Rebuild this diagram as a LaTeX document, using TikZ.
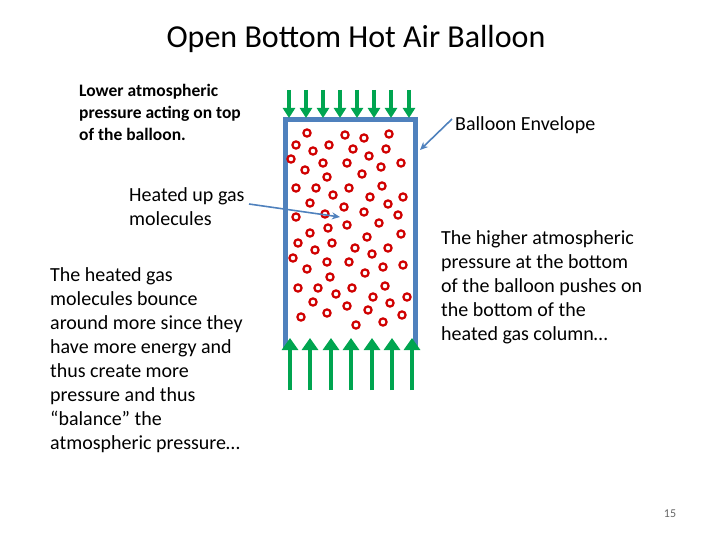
\documentclass[tikz,border=0pt]{standalone}
\usepackage{fontspec}
\setmainfont{Carlito}
\usetikzlibrary{arrows.meta}
\definecolor{envblue}{HTML}{4F81BD}
\definecolor{pushgreen}{HTML}{00A550}
\definecolor{molred}{HTML}{D00000}
\begin{document}
\begin{tikzpicture}[
    x=1pt, y=-1pt,
    txt/.style={anchor=north west, align=left, inner sep=0pt, font=\fontsize{20}{24}\selectfont},
    push/.style={draw=pushgreen, line width=3.5pt, -{Triangle[width=12pt,length=10pt]}},
    ptr/.style={draw=envblue, line width=1.6pt, -{Stealth[length=8pt,width=7pt]}},
    mol/.style={draw=molred, line width=2.2pt},
  ]
    \useasboundingbox (0,0) rectangle (720,540);
    % Title
    \node[font=\fontsize{32}{36}\selectfont] (title) at (356,39) {Open Bottom Hot Air Balloon};

    % Envelope
    \draw[draw=envblue, line width=5pt, line join=miter] (285,350) -- (285,120) -- (415,120) -- (415,350);

    % Pressure arrows
    \foreach \x in {289,306,323,340,357,374,391,409}
      \draw[push] (\x,90) -- (\x,118);
    \foreach \x in {290,310,331,351,372,392,412}
      \draw[push, -{Triangle[width=16pt,length=12pt]}] (\x,390) -- (\x,338);

    % Molecules
    \foreach \x/\y in {307/133,345/135,364/138,389/134,296/145,313/151,329/145,353/149,369/156,386/149,
        291/159,323/163,347/163,381/167,401/163,305/170,327/177,362/174,296/188,316/188,349/188,382/186,
        333/195,370/197,403/197,310/203,344/207,388/204,296/217,325/214,364/212,398/215,347/225,379/223,
        310/233,328/228,401/234,367/237,298/243,332/243,315/250,355/248,388/248,293/258,372/254,327/262,
        349/262,307/269,383/267,403/265,330/277,365/273,298/288,318/288,352/288,385/286,313/302,336/294,
        373/297,407/297,347/306,390/303,301/317,327/313,368/310,402/315,356/325,383/322}
      \draw[mol] (\x,\y) circle (3.6);

    % Labels
    \node[txt, font=\bfseries\fontsize{17.5}{22}\selectfont] (top) at (79,84) {Lower atmospheric\\pressure acting on top\\of the balloon.};
    \node[txt] (gas) at (129,187) {Heated up gas\\molecules};
    \node[txt] (bounce) at (50,267) {The heated gas\\molecules bounce\\around more since they\\have more energy and\\thus create more\\pressure and thus\\“balance” the\\atmospheric pressure…};
    \node[txt] (env) at (455,116) {Balloon Envelope};
    \node[txt] (bottom) at (441,230) {The higher atmospheric\\pressure at the bottom\\of the balloon pushes on\\the bottom of the\\heated gas column…};
    \node[font=\fontsize{12}{14}\selectfont, text=gray!80!black] (page) at (670,514) {15};

    % Pointers
    \coordinate (gasend) at (340,217);
    \coordinate (envend) at (420,150);
    \draw[ptr] (249,204) -- (gasend);
    \draw[ptr] (452,119) -- (envend);
\end{tikzpicture}
\end{document}
